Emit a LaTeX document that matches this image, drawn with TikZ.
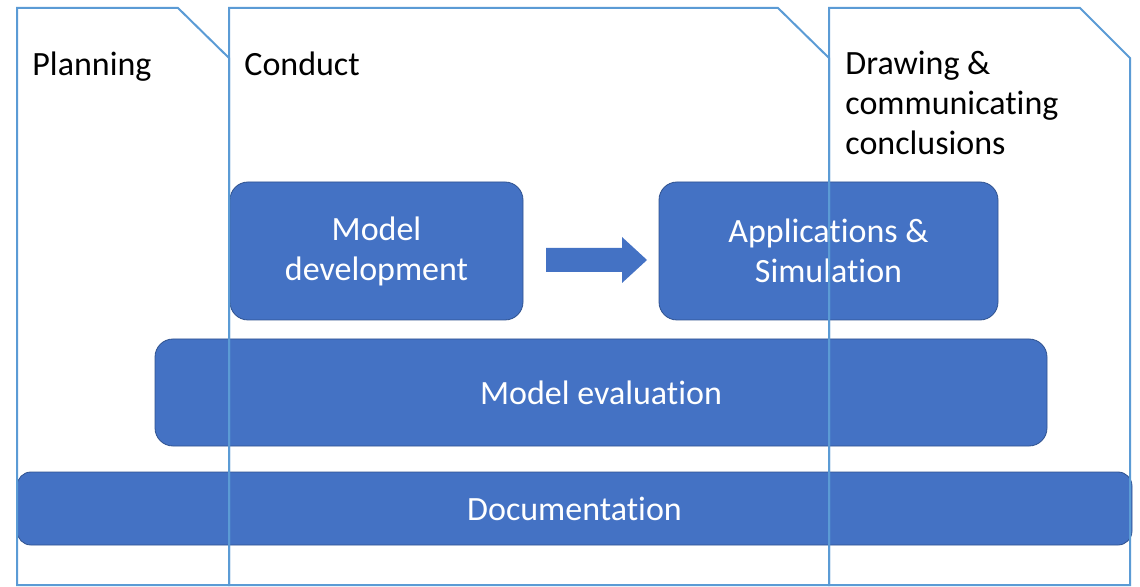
\documentclass[tikz,border=0pt]{standalone}
\usepackage{fontspec}
\setmainfont{Carlito}[Ligatures = NoCommon]
\usepackage{tikz}
\usetikzlibrary{positioning}
\definecolor{boxblue}{RGB}{68,114,196}
\definecolor{boxedge}{RGB}{47,82,143}
\definecolor{phaseline}{RGB}{91,155,213}
\tikzset{stage/.style = {fill = boxblue, draw = boxedge, line width = 0.4pt,
                         rounded corners = 9pt, text = white, align = center,
                         inner sep = 0, font = \fontsize{17}{20}\selectfont}}
\tikzset{phase/.style = {draw = phaseline, line width = 1pt, line join = miter}}
\tikzset{phasetitle/.style = {anchor = north west, inner sep = 0, align = left,
                              font = \fontsize{17}{20}\selectfont}}

\begin{document}
\begin{tikzpicture}[x = 0.5pt, y = -0.5pt]
      \useasboundingbox (0, 0) rectangle (1140, 587);

      \node [stage, minimum width = 146.5pt, minimum height = 69pt] (dev) at (376.5, 251) {Model\\development};
      \node [stage, minimum width = 169.5pt, minimum height = 69pt] (apps) at (828.5, 251) {Applications \&\\Simulation};
      \node [stage, minimum width = 446pt, minimum height = 53.5pt] (eval) at (601, 392.5) {Model evaluation};
      \node [stage, minimum width = 557.5pt, minimum height = 36.5pt, rounded corners = 7pt] (doc) at (574.5, 508.5) {Documentation};

      \fill [boxblue] (546, 248) -- (622, 248) -- (622, 237) -- (647, 260)
        -- (622, 283) -- (622, 272) -- (546, 272) -- cycle;

      \draw [phase] (17, 585) -- (17, 8) -- (178, 8) -- (229, 58) -- (229, 585) -- cycle;
      \draw [phase] (229, 585) -- (229, 8) -- (778, 8) -- (829, 58) -- (829, 585) -- cycle;
      \draw [phase] (829, 585) -- (829, 8) -- (1080, 8) -- (1130, 58) -- (1130, 585) -- cycle;

      \node [phasetitle] (plan) at (32, 51) {Planning};
      \node [phasetitle] (conduct) at (244, 51) {Conduct};
      \node [phasetitle] (concl) at (845, 51) {Drawing \&\\communicating\\conclusions};
    \end{tikzpicture}
\end{document}
